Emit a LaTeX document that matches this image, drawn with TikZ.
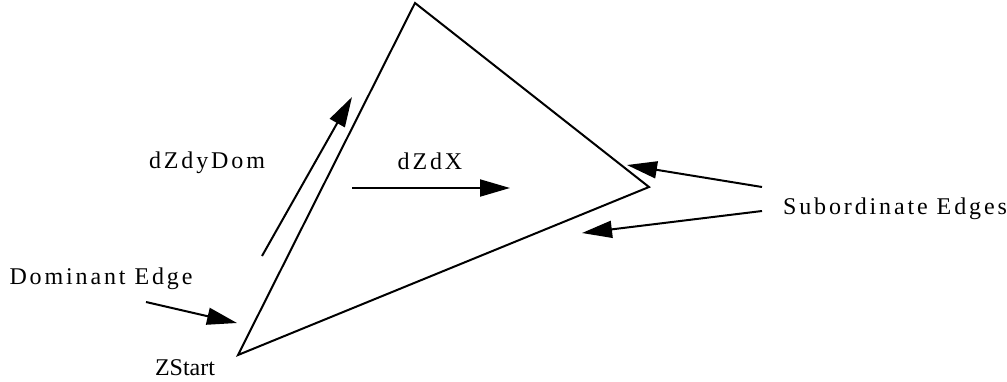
\documentclass[tikz,border=0pt]{standalone}
\usepackage{fontspec}
\setmainfont{Liberation Serif}
\usepackage{tikz}
\usetikzlibrary{arrows.meta}
\newfontfamily\spacedfont[LetterSpace=12]{Liberation Serif}

\tikzset{
  edge/.style={line width=2pt, line join=miter},
  vec/.style={line width=2pt, -{Triangle[length=30pt, width=17pt]}},
  lbl/.style={inner sep=0pt, font=\fontsize{24}{28}\selectfont},
  slbl/.style={inner sep=0pt, font=\fontsize{24}{28}\spacedfont}
}

\begin{document}
\begin{tikzpicture}[x=1pt, y=-1pt]
    \useasboundingbox (0,0) rectangle (1007,381);
    % triangle
    \coordinate (top) at (415,3);
    \coordinate (right) at (649,187);
    \coordinate (zstart) at (238,355);
    \draw[edge] (zstart) -- (top) -- (right) -- cycle;

    % labels
    \node[slbl] (domlabel) at (101,279) {Dominant Edge};
    \node[lbl] (zlabel) at (185,368) {ZStart};
    \node[slbl] (dydomlabel) at (207,163) {dZdyDom};
    \node[slbl] (dxlabel) at (430,161) {dZdX};
    \node[slbl] (sublabel) at (895,209) {Subordinate Edges};

    % arrow end points
    \coordinate (domtail) at (146,302);
    \coordinate (domtip) at (237,323);
    \coordinate (dytail) at (262,256);
    \coordinate (dytip) at (352,97);
    \coordinate (dxtail) at (352,188);
    \coordinate (dxtip) at (510,188);
    \coordinate (subtailA) at (762,187);
    \coordinate (subtipA) at (627,165);
    \coordinate (subtailB) at (762,211);
    \coordinate (subtipB) at (582,233);

    \draw[vec] (domtail) -- (domtip);
    \draw[vec] (dytail) -- (dytip);
    \draw[vec] (dxtail) -- (dxtip);
    \draw[vec] (subtailA) -- (subtipA);
    \draw[vec] (subtailB) -- (subtipB);
\end{tikzpicture}
\end{document}
